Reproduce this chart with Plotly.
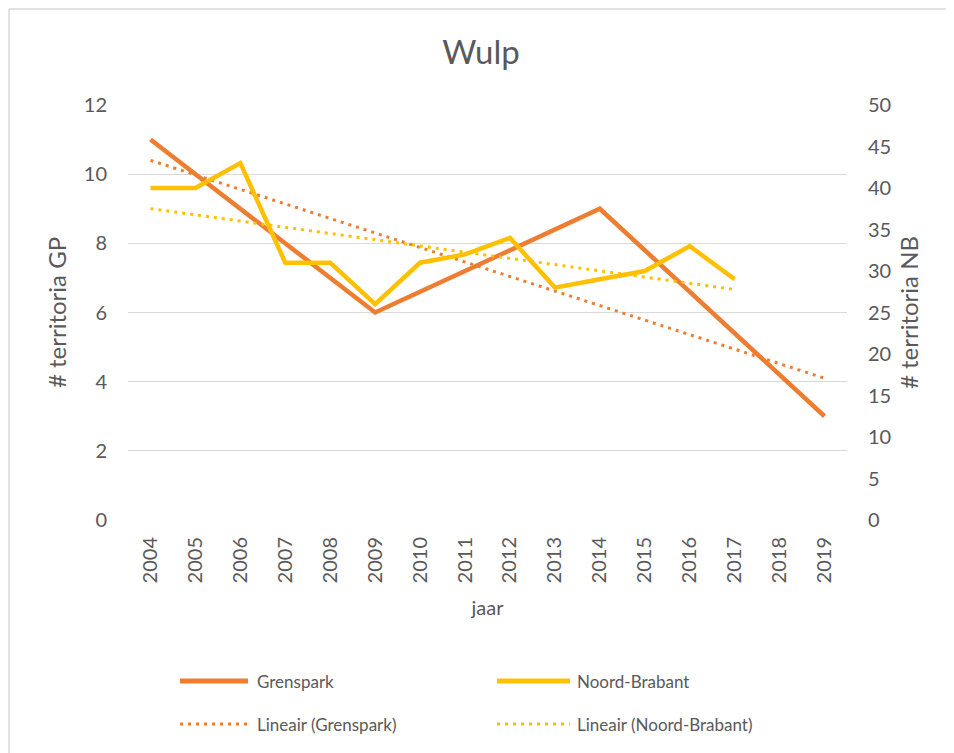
import numpy as np
import plotly.graph_objects as go

years = [str(y) for y in range(2004, 2020)]
grenspark = [11, None, None, None, None, 6, None, None, None, None, 9, None, None, None, None, 3]
noord_brabant = [40, 40, 43, 31, 31, 26, 31, 32, 34, 28, 29, 30, 33, 29, None, None]

GP_COLOR = "#ED7D31"
NB_COLOR = "#FFC000"
TXT = "#595959"
FONT = "Lato"

def trend(vals):
    idx = np.array([i for i, v in enumerate(vals) if v is not None], dtype=float)
    y = np.array([v for v in vals if v is not None], dtype=float)
    a, b = np.polyfit(idx, y, 1)
    first, last = int(idx.min()), int(idx.max())
    xs = list(range(first, last + 1))
    return [years[i] for i in xs], [a * i + b for i in xs]

gx, gy = trend(grenspark)
nx_, ny_ = trend(noord_brabant)

DOT = "3px,5px"

fig = go.Figure()
fig.add_trace(go.Scatter(x=years, y=grenspark, name="Grenspark", mode="lines",
                         connectgaps=True, line=dict(color=GP_COLOR, width=4.5),
                         yaxis="y", showlegend=False))
fig.add_trace(go.Scatter(x=years, y=noord_brabant, name="Noord-Brabant", mode="lines",
                         connectgaps=True, line=dict(color=NB_COLOR, width=4.5),
                         yaxis="y2", showlegend=False))
fig.add_trace(go.Scatter(x=gx, y=gy, name="Lineair (Grenspark)", mode="lines",
                         line=dict(color=GP_COLOR, width=3, dash=DOT),
                         yaxis="y", showlegend=False))
fig.add_trace(go.Scatter(x=nx_, y=ny_, name="Lineair (Noord-Brabant)", mode="lines",
                         line=dict(color=NB_COLOR, width=3, dash=DOT),
                         yaxis="y2", showlegend=False))

OFF = 8  # page body margin
W, H = 954 - OFF, 753 - OFF
PL, PR, PT, PB = 128, 847, 105, 520  # plot area in screenshot pixels
L, T = PL - OFF, PT - OFF
R = W - (PR - OFF)
B = H - (PB - OFF)
pw, ph = PR - PL, PB - PT

def px(x):
    return (x - PL) / pw

def py(y):
    return (PB - y) / ph

legend_items = [
    ("Grenspark", GP_COLOR, "solid", 5, 180, 248, 255, 681),
    ("Noord-Brabant", NB_COLOR, "solid", 5, 497, 570, 575, 681),
    ("Lineair (Grenspark)", GP_COLOR, DOT, 3, 180, 248, 255, 724),
    ("Lineair (Noord-Brabant)", NB_COLOR, DOT, 3, 497, 570, 575, 724),
]
shapes = []
annotations = []
for name, col, dash, w, x0, x1, tx, yy in legend_items:
    shapes.append(dict(type="line", xref="paper", yref="paper", x0=px(x0), x1=px(x1),
                       y0=py(yy), y1=py(yy), line=dict(color=col, width=w, dash=dash)))
    annotations.append(dict(text=name, xref="paper", yref="paper", x=px(tx), y=py(yy),
                            xanchor="left", yanchor="middle", showarrow=False,
                            font=dict(family=FONT, size=17, color=TXT)))

# chart border (top and left edges visible in the reference crop)
shapes.append(dict(type="line", xref="paper", yref="paper", x0=px(9), x1=px(954),
                   y0=py(9), y1=py(9), line=dict(color="#d9d9d9", width=1.5), layer="below"))
shapes.append(dict(type="line", xref="paper", yref="paper", x0=px(9), x1=px(9),
                   y0=py(9), y1=py(760), line=dict(color="#d9d9d9", width=1.5), layer="below"))

fig.update_layout(
    width=W, height=H,
    margin=dict(l=L, r=R, t=T, b=B),
    paper_bgcolor="white", plot_bgcolor="white",
    font=dict(family=FONT, color=TXT, size=19),
    title=dict(text="Wulp", x=0.5, xanchor="center", y=1 - (52 - OFF) / H, yanchor="middle",
               font=dict(family=FONT, size=33, color=TXT)),
    xaxis=dict(type="category", categoryorder="array", categoryarray=years,
               range=[-0.5, 15.5],
               tickangle=-90, showgrid=False, showline=False, ticks="",
               ticklabelstandoff=12,
               tickfont=dict(size=20, color=TXT),
               title=dict(text="jaar", font=dict(size=20, color=TXT), standoff=18)),
    yaxis=dict(range=[0, 12], dtick=2, showgrid=True, gridcolor="#d9d9d9", gridwidth=1,
               zeroline=False, showline=False, ticks="", tickfont=dict(size=20, color=TXT),
               ticklabelstandoff=20,
               title=dict(text="# territoria GP", font=dict(size=24, color=TXT), standoff=10)),
    yaxis2=dict(range=[0, 50], dtick=5, overlaying="y", side="right", showgrid=False,
                zeroline=False, showline=False, ticks="", tickfont=dict(size=20, color=TXT),
                ticklabelstandoff=20,
                title=dict(text="# territoria NB", font=dict(size=24, color=TXT), standoff=10)),
    shapes=shapes,
    annotations=annotations,
    showlegend=False,
)

fig.write_html("out.html")
